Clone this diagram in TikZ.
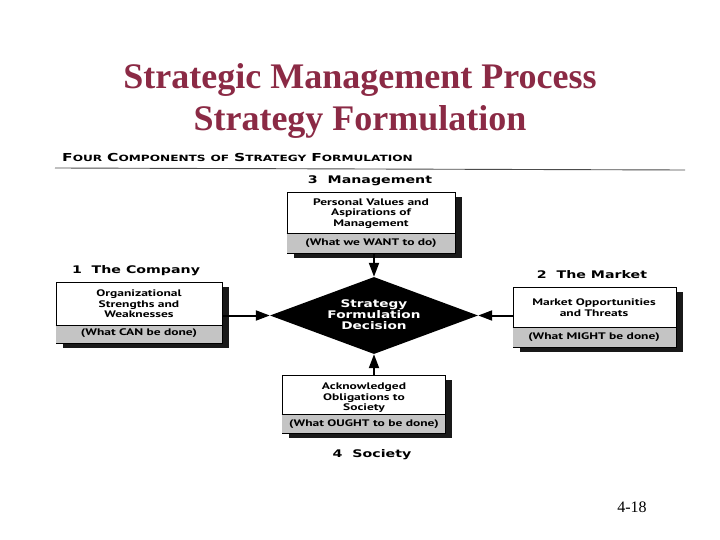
\documentclass[tikz,border=0pt]{standalone}
\usepackage{fontspec}
\setmainfont{Liberation Serif}
\newfontfamily\boxfont[FakeStretch=1.42]{PT Sans}
\newfontfamily\widefont[FakeStretch=1.35]{DejaVu Sans}
\newfontfamily\hdrfont[FakeStretch=1.41]{DejaVu Sans}
\newfontfamily\diafont[FakeStretch=1.3]{DejaVu Sans}
\usetikzlibrary{shapes.geometric,arrows.meta,shadows}
\definecolor{titlered}{HTML}{8B2A45}
\definecolor{bandgray}{HTML}{C4C4C4}
\newcommand{\smc}[2]{{\fontsize{11}{11}\selectfont #1}{\fontsize{8.6}{9}\selectfont #2}}
\begin{document}
\begin{tikzpicture}[x=1pt,y=-1pt,
  compbox/.style={draw=black, line width=0.8pt, fill=white, inner sep=0pt,
    drop shadow={shadow xshift=7pt, shadow yshift=-5pt, fill=black, opacity=0.9}},
  boxtext/.style={font=\boxfont\bfseries\fontsize{9.5}{10.5}\selectfont, align=center, inner sep=0pt},
  comptitle/.style={font=\widefont\bfseries\fontsize{10.5}{12}\selectfont, inner sep=0pt},
  arr/.style={line width=2pt, -{Triangle[length=14pt,width=10pt]}},
]
\useasboundingbox (0,0) rectangle (720,540);
\fill[white] (0,0) rectangle (720,540);
% title
\node[font=\bfseries\fontsize{36}{40}\selectfont, text=titlered] (t1) at (360,80) {Strategic Management Process};
\node[font=\bfseries\fontsize{36}{40}\selectfont, text=titlered] (t2) at (360,122) {Strategy Formulation};
% header
\node[anchor=west, inner sep=0pt, font=\hdrfont\bfseries] (hdr) at (62,157) {\smc{F}{OUR} \smc{C}{OMPONENTS} \smc{}{OF} \smc{S}{TRATEGY} \smc{F}{ORMULATION}};
\coordinate (hl) at (55,168);
\coordinate (hr) at (685,170);
\draw[line width=0.9pt, black!70] (hl) -- (hr);
% boxes
\node[compbox, minimum width=168pt, minimum height=61pt] (mgmt) at (371,222.5) {};
\fill[bandgray] ([xshift=0.4pt,yshift=0.4pt]mgmt.south west) rectangle ([xshift=-0.4pt,yshift=20pt]mgmt.south east);
\draw[line width=0.8pt] ([yshift=20pt]mgmt.south west) -- ([yshift=20pt]mgmt.south east);
\node[compbox, minimum width=166pt, minimum height=61pt] (comp) at (139,312.5) {};
\fill[bandgray] ([xshift=0.4pt,yshift=0.4pt]comp.south west) rectangle ([xshift=-0.4pt,yshift=18pt]comp.south east);
\draw[line width=0.8pt] ([yshift=18pt]comp.south west) -- ([yshift=18pt]comp.south east);
\node[compbox, minimum width=163pt, minimum height=60pt] (mkt) at (594.5,317) {};
\fill[bandgray] ([xshift=0.4pt,yshift=0.4pt]mkt.south west) rectangle ([xshift=-0.4pt,yshift=20pt]mkt.south east);
\draw[line width=0.8pt] ([yshift=20pt]mkt.south west) -- ([yshift=20pt]mkt.south east);
\node[compbox, minimum width=163pt, minimum height=58pt] (soc) at (363.5,404) {};
\fill[bandgray] ([xshift=0.4pt,yshift=0.4pt]soc.south west) rectangle ([xshift=-0.4pt,yshift=19pt]soc.south east);
\draw[line width=0.8pt] ([yshift=19pt]soc.south west) -- ([yshift=19pt]soc.south east);
% box titles
\node[comptitle] (mgmtT) at (370,181) {3\ \ Management};
\node[comptitle] (compT) at (136,271) {1\ \ The Company};
\node[comptitle] (mktT) at (592,275) {2\ \ The Market};
\node[comptitle] (socT) at (372,455) {4\ \ Society};
% box texts
\node[boxtext] (mgmt1) at (371,213.5) {Personal Values and\\Aspirations of\\Management};
\node[boxtext] (mgmt2) at (371,243) {(What we WANT to do)};
\node[boxtext] (comp1) at (139,304) {Organizational\\Strengths and\\Weaknesses};
\node[boxtext] (comp2) at (139,333) {(What CAN be done)};
\node[boxtext] (mkt1) at (594,307.5) {Market Opportunities\\and Threats};
\node[boxtext] (mkt2) at (594,337) {(What MIGHT be done)};
\node[boxtext] (soc1) at (364,398) {Acknowledged\\Obligations to\\Society};
\node[boxtext] (soc2) at (364,424) {(What OUGHT to be done)};
% diamond
\node[diamond, fill=black, minimum width=208pt, minimum height=77pt, inner sep=0pt] (dia) at (374,315.5) {};
\node[font=\diafont\bfseries\fontsize{10.5}{11}\selectfont, text=white, align=center, inner sep=0pt] (diaT) at (374,315) {Strategy\\Formulation\\Decision};
% arrows
\draw[arr] (mgmt.south -| dia.north) -- (dia.north);
\draw[arr] (soc.north -| dia.south) -- (dia.south);
\draw[arr] (comp.east |- dia.west) -- (dia.west);
\draw[arr] (mkt.west |- dia.east) -- (dia.east);
% page number
\node[font=\fontsize{16}{18}\selectfont] (pg) at (632,507) {4-18};
\end{tikzpicture}
\end{document}
